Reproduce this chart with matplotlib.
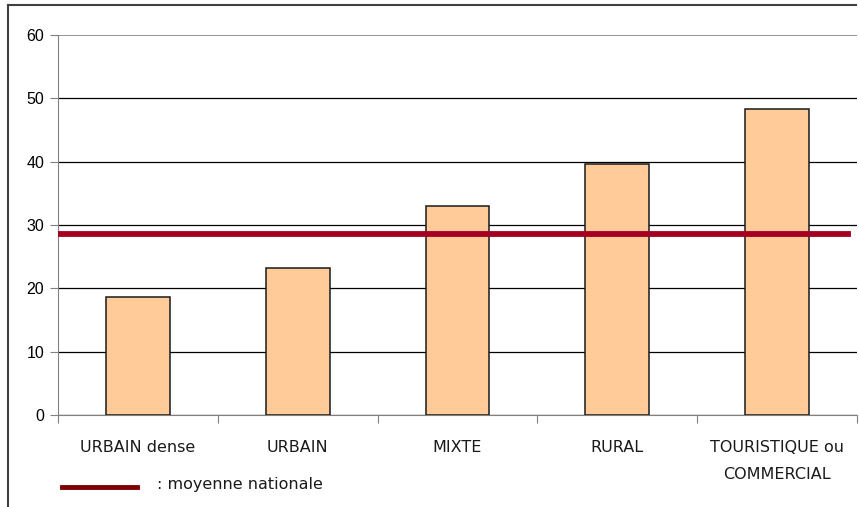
import matplotlib
matplotlib.use("Agg")
import matplotlib.pyplot as plt
from matplotlib.lines import Line2D

categories = ["URBAIN dense", "URBAIN", "MIXTE", "RURAL", "TOURISTIQUE ou\nCOMMERCIAL"]
values = [18.7, 23.2, 33.0, 39.6, 48.3]
moyenne_nationale = 28.6
yticks = [0, 10, 20, 30, 40, 50, 60]

fig = plt.figure(figsize=(8.59, 5.07), dpi=100)
ax = fig.add_axes([58/859, 1-415/507, (857-58)/859, (415-35)/507])

x = list(range(len(categories)))
ax.bar(x, values, width=0.4, color="#FFCC99", edgecolor="#1a1a1a", linewidth=1.1, zorder=3)
ax.axhline(moyenne_nationale, xmin=0, xmax=0.989, color="#A50021", linewidth=4.2, zorder=4)

ax.set_xlim(-0.5, len(categories)-0.5)
ax.set_ylim(0, 60)
ax.set_yticks(yticks)
ax.set_yticklabels([str(v) for v in yticks], fontsize=11.5, family="Liberation Sans")
ax.yaxis.grid(True, color="black", linewidth=0.9, zorder=0)
ax.set_axisbelow(True)
ax.get_ygridlines()[-1].set_color("#808080")
ax.get_ygridlines()[-1].set_linewidth(1.2)

ax.set_xticks([i - 0.5 for i in range(len(categories)+1)])
ax.set_xticklabels([])
ax.tick_params(axis="x", direction="out", length=6, color="#808080")
ax.tick_params(axis="y", direction="out", length=6, color="#808080", pad=4)
for i, c in enumerate(categories):
    ax.text(i, -3.9, c, ha="center", va="top", fontsize=11.5, family="DejaVu Sans",
            linespacing=2.0, color="#1a1a1a")

for s in ["top", "right"]:
    ax.spines[s].set_visible(False)
ax.spines["left"].set_color("#808080")
ax.spines["bottom"].set_color("#808080")

# legend-like annotation
fig.add_artist(Line2D([62/859, 137/859], [1-487/507, 1-487/507], color="#800000", linewidth=3.5))
fig.text(157/859, 1-484/507, ": moyenne nationale", fontsize=11.5, family="DejaVu Sans",
         va="center", ha="left", color="#1a1a1a")

# outer frame
fig.add_artist(Line2D([8/859, 8/859], [0, 1-5/507], color="#404040", linewidth=1.5))
fig.add_artist(Line2D([8/859, 856/859], [1-5/507, 1-5/507], color="#404040", linewidth=1.5))

fig.savefig("out.png", dpi=100)
